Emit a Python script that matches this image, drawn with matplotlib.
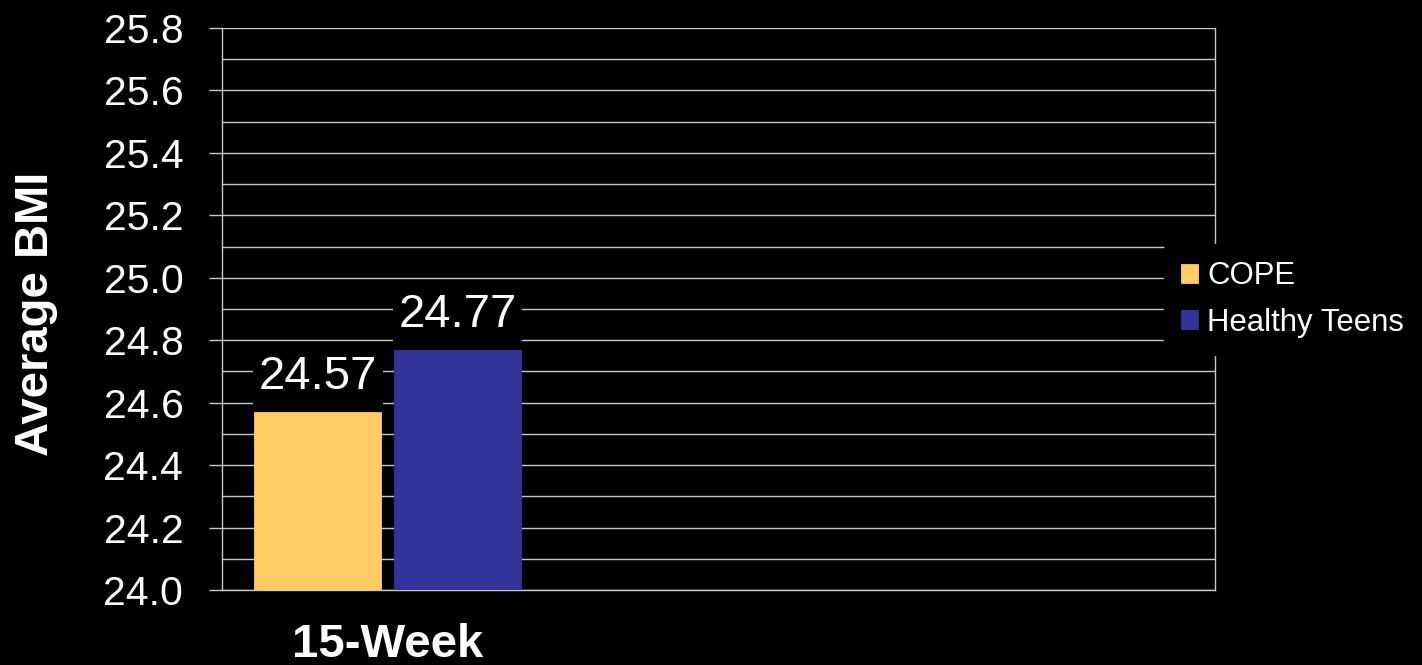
import matplotlib
matplotlib.use("Agg")
import matplotlib.pyplot as plt
from matplotlib.ticker import MultipleLocator

# Average BMI by group at the 15-week point
periods = ["15-Week", "", ""]
groups = ["COPE", "Healthy Teens"]
bmi_cope = [24.57]
bmi_healthy = [24.77]

colors = {"COPE": "#FFCC66", "Healthy Teens": "#333399"}
grid_c = "#c8c8c8"

plt.rcParams["font.family"] = ["Liberation Sans", "DejaVu Sans"]

fig = plt.figure(figsize=(14.22, 6.65), dpi=100, facecolor="black")
ax = fig.add_axes([222 / 1422, 1 - 590 / 665, 993 / 1422, 562 / 665])
ax.set_facecolor("black")

width = 0.384
offset = 0.211
series = [bmi_cope, bmi_healthy]
for i, (name, vals) in enumerate(zip(groups, series)):
    xs = [k + (-offset if i == 0 else offset) for k in range(len(vals))]
    bars = ax.bar(xs, [v - 24.0 for v in vals], width, bottom=24.0,
                  color=colors[name], edgecolor=colors[name], linewidth=0.6,
                  label=name, zorder=3)
    for b, v in zip(bars, vals):
        ax.annotate(f"{v:.2f}", (b.get_x() + b.get_width() / 2, v),
                    xytext=(0, 16.5), textcoords="offset points",
                    ha="center", va="baseline", color="white", fontsize=34,
                    bbox=dict(boxstyle="square,pad=0.12", fc="black", ec="none"),
                    zorder=4)

ax.set_xlim(-0.5, len(periods) - 0.5)
ax.set_ylim(24.0, 25.8)
ax.yaxis.set_major_locator(MultipleLocator(0.2))
ax.yaxis.set_minor_locator(MultipleLocator(0.1))
ax.yaxis.set_major_formatter(matplotlib.ticker.FormatStrFormatter("%.1f"))
ax.grid(axis="y", which="both", color=grid_c, linewidth=1.0, zorder=1)
ax.set_axisbelow(True)

ax.set_xticks([0])
ax.set_xticklabels([periods[0]], fontsize=34, fontweight="bold", color="white")
ax.tick_params(axis="x", length=0, pad=23.5)
ax.tick_params(axis="y", which="major", length=9.4, width=1.0, color=grid_c,
               labelsize=29.5, labelcolor="white", pad=18.5)
ax.tick_params(axis="y", which="minor", length=0)

for side in ["left", "bottom", "right"]:
    ax.spines[side].set_color(grid_c)
    ax.spines[side].set_linewidth(1.0)
ax.spines["top"].set_visible(False)

fig.text(14 / 1422, 1 - 314 / 665, "Average BMI", rotation=90, ha="left",
         va="center", fontsize=34, fontweight="bold", color="white")

leg = ax.legend(loc="center left", bbox_to_anchor=(1164 / 1422, 1 - 299.5 / 665),
                bbox_transform=fig.transFigure, borderaxespad=0,
                fontsize=22.4, frameon=True, facecolor="black", edgecolor="black",
                framealpha=1, handlelength=0.55, handleheight=0.55,
                handletextpad=0.28, labelspacing=0.53, borderpad=0.55)
for t in leg.get_texts():
    t.set_color("white")
leg.set_zorder(5)

fig.savefig("out.png", dpi=100, facecolor="black")
